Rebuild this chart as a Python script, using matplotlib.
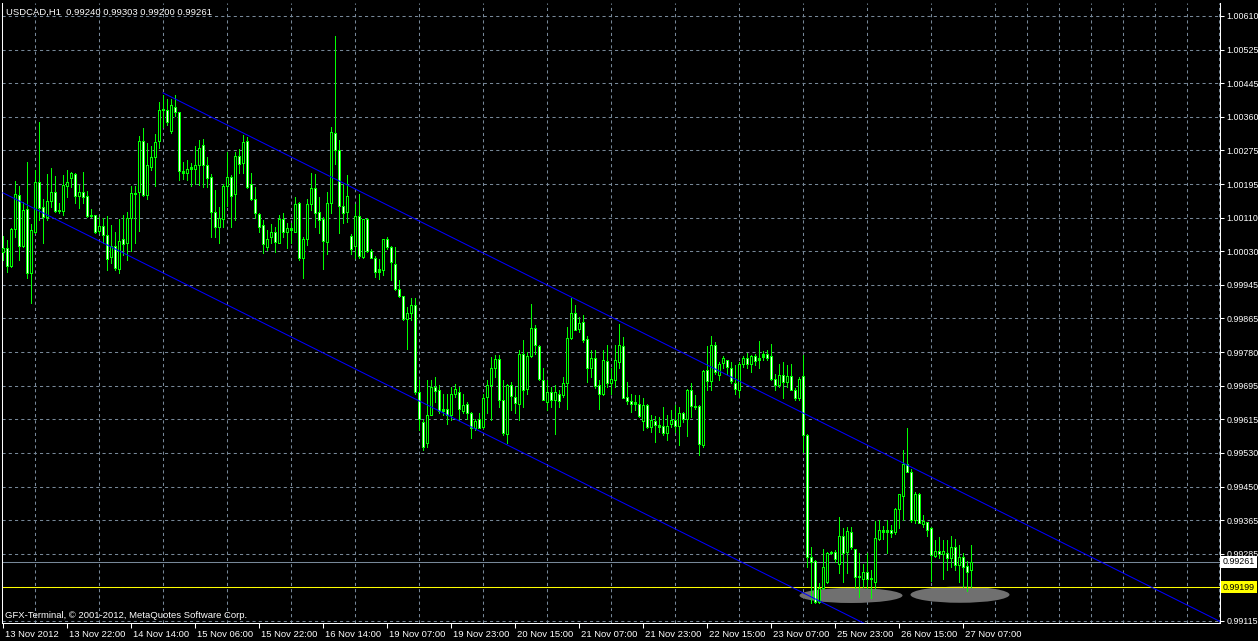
import matplotlib.pyplot as plt
import matplotlib.transforms as mtransforms
from matplotlib.patches import Ellipse
import numpy as np

plt.rcParams['font.family'] = ['Liberation Sans', 'DejaVu Sans']

# Header / footer text
title_text = "USDCAD,H1  0.99240 0.99303 0.99200 0.99261"
copyright_text = "GFX-Terminal, \u00a9 2001-2012, MetaQuotes Software Corp."

# H1 candles, 13 Nov 2012 06:00 .. 27 Nov 2012 09:00
opens = [
    1.00028, 1.00036, 0.99991, 1.00084, 1.00167, 1.00042, 1.00132, 0.99974, 1.00077, 1.00199,
    1.00137, 1.00114, 1.00152, 1.00176, 1.00129, 1.00129, 1.00191, 1.00210, 1.00219, 1.00166,
    1.00174, 1.00165, 1.00116, 1.00118, 1.00079, 1.00091, 1.00069, 1.00015, 1.00042, 0.99986,
    1.00058, 1.00048, 1.00110, 1.00171, 1.00175, 1.00302, 1.00167, 1.00236, 1.00261, 1.00300,
    1.00377, 1.00377, 1.00326, 1.00386, 1.00372, 1.00228, 1.00223, 1.00233, 1.00233, 1.00243,
    1.00291, 1.00243, 1.00211, 1.00125, 1.00089, 1.00108, 1.00190, 1.00212, 1.00171, 1.00265,
    1.00247, 1.00300, 1.00194, 1.00159, 1.00121, 1.00093, 1.00040, 1.00063, 1.00076, 1.00050,
    1.00108, 1.00077, 1.00085, 1.00077, 1.00149, 1.00011, 1.00059, 1.00145, 1.00186, 1.00126,
    1.00108, 1.00052, 1.00149, 1.00320, 1.00279, 1.00140, 1.00126, 1.00066, 1.00042, 1.00117,
    1.00015, 1.00108, 1.00029, 1.00012, 0.99978, 0.99983, 1.00058, 1.00039, 0.99997, 0.99936,
    0.99918, 0.99862, 0.99877, 0.99897, 0.99680, 0.99606, 0.99554, 0.99625, 0.99694, 0.99687,
    0.99634, 0.99638, 0.99624, 0.99677, 0.99682, 0.99634, 0.99651, 0.99629, 0.99591, 0.99613,
    0.99595, 0.99669, 0.99699, 0.99741, 0.99763, 0.99662, 0.99578, 0.99699, 0.99669, 0.99652,
    0.99776, 0.99689, 0.99769, 0.99838, 0.99794, 0.99710, 0.99657, 0.99680, 0.99661, 0.99675,
    0.99673, 0.99703, 0.99815, 0.99877, 0.99836, 0.99854, 0.99813, 0.99739, 0.99764, 0.99697,
    0.99677, 0.99757, 0.99703, 0.99710, 0.99755, 0.99794, 0.99668, 0.99659, 0.99650, 0.99650,
    0.99610, 0.99648, 0.99595, 0.99608, 0.99599, 0.99598, 0.99580, 0.99602, 0.99611, 0.99597,
    0.99628, 0.99613, 0.99685, 0.99647, 0.99646, 0.99550, 0.99735, 0.99708, 0.99798, 0.99724,
    0.99753, 0.99759, 0.99741, 0.99702, 0.99685, 0.99751, 0.99765, 0.99751, 0.99769, 0.99759,
    0.99768, 0.99774, 0.99771, 0.99714, 0.99699, 0.99723, 0.99706, 0.99720, 0.99686, 0.99665,
    0.99720, 0.99574, 0.99272, 0.99263, 0.99163, 0.99196, 0.99212, 0.99282, 0.99285, 0.99257,
    0.99325, 0.99286, 0.99336, 0.99292, 0.99223, 0.99218, 0.99235, 0.99218, 0.99212, 0.99317,
    0.99340, 0.99336, 0.99341, 0.99336, 0.99391, 0.99425, 0.99504, 0.99484, 0.99364, 0.99430,
    0.99355, 0.99360, 0.99344, 0.99275, 0.99289, 0.99280, 0.99282, 0.99271, 0.99297, 0.99253,
    0.99272, 0.99251, 0.99240,
]
highs = [
    1.00066, 1.00056, 1.00085, 1.00202, 1.00190, 1.00151, 1.00249, 1.00096, 1.00229, 1.00348,
    1.00159, 1.00219, 1.00234, 1.00215, 1.00148, 1.00216, 1.00229, 1.00225, 1.00221, 1.00192,
    1.00224, 1.00177, 1.00133, 1.00118, 1.00114, 1.00112, 1.00116, 1.00093, 1.00077, 1.00109,
    1.00118, 1.00125, 1.00190, 1.00190, 1.00313, 1.00333, 1.00295, 1.00289, 1.00318, 1.00398,
    1.00415, 1.00405, 1.00405, 1.00414, 1.00374, 1.00250, 1.00254, 1.00247, 1.00289, 1.00303,
    1.00307, 1.00262, 1.00219, 1.00180, 1.00139, 1.00195, 1.00273, 1.00217, 1.00274, 1.00281,
    1.00317, 1.00312, 1.00221, 1.00188, 1.00124, 1.00106, 1.00081, 1.00096, 1.00089, 1.00118,
    1.00124, 1.00099, 1.00099, 1.00163, 1.00151, 1.00065, 1.00159, 1.00223, 1.00219, 1.00163,
    1.00114, 1.00176, 1.00336, 1.00560, 1.00303, 1.00196, 1.00217, 1.00072, 1.00145, 1.00169,
    1.00109, 1.00110, 1.00035, 1.00018, 1.00009, 1.00060, 1.00064, 1.00041, 1.00039, 0.99957,
    0.99918, 0.99891, 0.99912, 0.99912, 0.99710, 0.99611, 0.99710, 0.99710, 0.99717, 0.99698,
    0.99677, 0.99677, 0.99694, 0.99700, 0.99692, 0.99677, 0.99657, 0.99632, 0.99615, 0.99628,
    0.99677, 0.99710, 0.99768, 0.99772, 0.99772, 0.99710, 0.99700, 0.99706, 0.99694, 0.99784,
    0.99809, 0.99780, 0.99899, 0.99846, 0.99797, 0.99739, 0.99710, 0.99694, 0.99698, 0.99685,
    0.99718, 0.99842, 0.99912, 0.99895, 0.99866, 0.99871, 0.99819, 0.99784, 0.99784, 0.99710,
    0.99784, 0.99798, 0.99739, 0.99798, 0.99850, 0.99817, 0.99706, 0.99677, 0.99673, 0.99673,
    0.99665, 0.99652, 0.99624, 0.99621, 0.99619, 0.99643, 0.99624, 0.99636, 0.99648, 0.99644,
    0.99632, 0.99689, 0.99702, 0.99673, 0.99648, 0.99735, 0.99794, 0.99819, 0.99805, 0.99755,
    0.99769, 0.99761, 0.99755, 0.99747, 0.99755, 0.99769, 0.99778, 0.99772, 0.99776, 0.99806,
    0.99782, 0.99784, 0.99799, 0.99726, 0.99751, 0.99755, 0.99747, 0.99750, 0.99690, 0.99717,
    0.99772, 0.99577, 0.99297, 0.99266, 0.99208, 0.99294, 0.99286, 0.99289, 0.99290, 0.99373,
    0.99344, 0.99348, 0.99348, 0.99294, 0.99282, 0.99256, 0.99282, 0.99241, 0.99363, 0.99364,
    0.99350, 0.99364, 0.99352, 0.99393, 0.99430, 0.99537, 0.99593, 0.99490, 0.99434, 0.99432,
    0.99377, 0.99360, 0.99348, 0.99315, 0.99323, 0.99315, 0.99315, 0.99325, 0.99317, 0.99303,
    0.99284, 0.99264, 0.99303,
]
lows = [
    1.00007, 0.99978, 0.99989, 1.00065, 1.00007, 1.00040, 0.99962, 0.99902, 1.00073, 1.00106,
    1.00050, 1.00106, 1.00139, 1.00126, 1.00122, 1.00118, 1.00163, 1.00188, 1.00148, 1.00135,
    1.00148, 1.00114, 1.00114, 1.00074, 1.00073, 1.00048, 0.99982, 0.99999, 0.99982, 0.99976,
    1.00019, 1.00007, 1.00030, 1.00048, 1.00079, 1.00166, 1.00159, 1.00229, 1.00191, 1.00284,
    1.00336, 1.00340, 1.00321, 1.00363, 1.00204, 1.00207, 1.00204, 1.00190, 1.00196, 1.00192,
    1.00188, 1.00188, 1.00063, 1.00065, 1.00048, 1.00089, 1.00140, 1.00089, 1.00106, 1.00221,
    1.00221, 1.00186, 1.00155, 1.00110, 1.00077, 1.00025, 1.00032, 1.00048, 1.00028, 1.00048,
    1.00065, 1.00036, 1.00048, 1.00077, 1.00007, 0.99962, 1.00044, 1.00130, 1.00089, 1.00073,
    0.99986, 1.00023, 1.00124, 1.00244, 1.00074, 1.00098, 1.00100, 1.00021, 1.00013, 1.00013,
    1.00013, 1.00026, 1.00011, 0.99965, 0.99959, 0.99971, 1.00035, 0.99957, 0.99932, 0.99916,
    0.99860, 0.99788, 0.99858, 0.99677, 0.99587, 0.99537, 0.99545, 0.99624, 0.99657, 0.99628,
    0.99624, 0.99603, 0.99611, 0.99669, 0.99611, 0.99628, 0.99615, 0.99566, 0.99588, 0.99591,
    0.99591, 0.99628, 0.99611, 0.99718, 0.99644, 0.99574, 0.99554, 0.99636, 0.99628, 0.99611,
    0.99644, 0.99677, 0.99768, 0.99776, 0.99710, 0.99661, 0.99636, 0.99644, 0.99578, 0.99644,
    0.99669, 0.99638, 0.99813, 0.99834, 0.99829, 0.99805, 0.99706, 0.99718, 0.99690, 0.99640,
    0.99673, 0.99694, 0.99677, 0.99694, 0.99739, 0.99665, 0.99652, 0.99632, 0.99636, 0.99619,
    0.99587, 0.99591, 0.99582, 0.99558, 0.99582, 0.99574, 0.99562, 0.99595, 0.99582, 0.99551,
    0.99607, 0.99573, 0.99619, 0.99640, 0.99525, 0.99545, 0.99685, 0.99687, 0.99726, 0.99710,
    0.99741, 0.99726, 0.99702, 0.99677, 0.99669, 0.99743, 0.99739, 0.99731, 0.99747, 0.99741,
    0.99759, 0.99759, 0.99710, 0.99685, 0.99692, 0.99665, 0.99694, 0.99686, 0.99662, 0.99662,
    0.99533, 0.99249, 0.99159, 0.99159, 0.99160, 0.99193, 0.99210, 0.99280, 0.99262, 0.99233,
    0.99212, 0.99233, 0.99294, 0.99196, 0.99175, 0.99200, 0.99196, 0.99173, 0.99196, 0.99315,
    0.99318, 0.99282, 0.99323, 0.99331, 0.99344, 0.99364, 0.99484, 0.99360, 0.99358, 0.99356,
    0.99348, 0.99325, 0.99215, 0.99274, 0.99270, 0.99220, 0.99241, 0.99249, 0.99241, 0.99212,
    0.99200, 0.99190, 0.99200,
]
closes = [
    1.00036, 0.99991, 1.00083, 1.00170, 1.00042, 1.00130, 0.99974, 1.00081, 1.00199, 1.00136,
    1.00114, 1.00152, 1.00174, 1.00129, 1.00127, 1.00192, 1.00199, 1.00221, 1.00166, 1.00175,
    1.00163, 1.00116, 1.00118, 1.00076, 1.00091, 1.00070, 1.00009, 1.00042, 0.99988, 1.00054,
    1.00046, 1.00110, 1.00172, 1.00173, 1.00301, 1.00168, 1.00242, 1.00261, 1.00298, 1.00377,
    1.00381, 1.00349, 1.00391, 1.00373, 1.00228, 1.00221, 1.00233, 1.00236, 1.00243, 1.00285,
    1.00243, 1.00210, 1.00126, 1.00089, 1.00110, 1.00190, 1.00213, 1.00166, 1.00265, 1.00245,
    1.00298, 1.00188, 1.00157, 1.00124, 1.00089, 1.00046, 1.00060, 1.00076, 1.00051, 1.00108,
    1.00077, 1.00085, 1.00081, 1.00145, 1.00011, 1.00059, 1.00145, 1.00186, 1.00122, 1.00107,
    1.00055, 1.00149, 1.00323, 1.00279, 1.00140, 1.00124, 1.00165, 1.00035, 1.00117, 1.00016,
    1.00108, 1.00029, 1.00012, 0.99978, 0.99984, 1.00058, 1.00038, 1.00001, 0.99936, 0.99918,
    0.99862, 0.99877, 0.99897, 0.99680, 0.99613, 0.99545, 0.99625, 0.99694, 0.99684, 0.99634,
    0.99638, 0.99624, 0.99677, 0.99689, 0.99638, 0.99648, 0.99628, 0.99591, 0.99609, 0.99593,
    0.99667, 0.99699, 0.99741, 0.99762, 0.99662, 0.99580, 0.99698, 0.99671, 0.99654, 0.99776,
    0.99687, 0.99769, 0.99838, 0.99797, 0.99712, 0.99662, 0.99680, 0.99662, 0.99681, 0.99659,
    0.99702, 0.99815, 0.99877, 0.99835, 0.99852, 0.99810, 0.99739, 0.99764, 0.99695, 0.99677,
    0.99759, 0.99703, 0.99712, 0.99761, 0.99796, 0.99666, 0.99659, 0.99651, 0.99656, 0.99621,
    0.99648, 0.99595, 0.99611, 0.99600, 0.99595, 0.99580, 0.99598, 0.99612, 0.99597, 0.99628,
    0.99613, 0.99685, 0.99647, 0.99644, 0.99552, 0.99733, 0.99708, 0.99796, 0.99731, 0.99751,
    0.99764, 0.99743, 0.99708, 0.99689, 0.99751, 0.99765, 0.99751, 0.99769, 0.99758, 0.99764,
    0.99774, 0.99765, 0.99712, 0.99699, 0.99724, 0.99706, 0.99720, 0.99687, 0.99667, 0.99714,
    0.99574, 0.99272, 0.99261, 0.99163, 0.99196, 0.99248, 0.99282, 0.99286, 0.99267, 0.99325,
    0.99284, 0.99338, 0.99297, 0.99223, 0.99225, 0.99235, 0.99218, 0.99221, 0.99319, 0.99340,
    0.99334, 0.99341, 0.99333, 0.99391, 0.99429, 0.99502, 0.99484, 0.99364, 0.99430, 0.99358,
    0.99363, 0.99340, 0.99278, 0.99289, 0.99280, 0.99288, 0.99271, 0.99299, 0.99253, 0.99272,
    0.99249, 0.99237, 0.99261,
]

# time scale labels, one every 16 bars
time_labels = ["13 Nov 2012", "13 Nov 22:00", "14 Nov 14:00", "15 Nov 06:00", "15 Nov 22:00",
               "16 Nov 14:00", "19 Nov 07:00", "19 Nov 23:00", "20 Nov 15:00", "21 Nov 07:00",
               "21 Nov 23:00", "22 Nov 15:00", "23 Nov 07:00", "25 Nov 23:00", "26 Nov 15:00",
               "27 Nov 07:00"]
label_step = 16
grid_step = 8
n_slots = 304

# price scale, bottom to top (0.99200 is hidden under the yellow level tag)
price_labels = ["0.99115", "", "0.99285", "0.99365", "0.99450", "0.99530", "0.99615",
                "0.99695", "0.99780", "0.99865", "0.99945", "1.00030", "1.00110", "1.00195",
                "1.00275", "1.00360", "1.00445", "1.00525", "1.00610"]
price_bottom, price_top = 0.99115, 1.00610

bid_price = 0.99261
level_price = 0.99199

# channel lines: (bar, price) anchors
upper_channel = [(40, 1.00420), (303, 0.99120)]
lower_channel = [(0, 1.00173), (214.5, 0.99113)]

# grey highlight ellipses: (bar centre, price centre, width in bars, height in price)
highlights = [(212.0, 0.99178, 25.75, 0.00037), (239.25, 0.99180, 24.75, 0.00040)]

W, H = 1258, 641
fig = plt.figure(figsize=(W / 100, H / 100), dpi=100, facecolor='black')
ax = fig.add_axes([2 / W, 18 / H, 1218 / W, 620 / H], facecolor='black')

o = np.array(opens)
h = np.array(highs)
l = np.array(lows)
c = np.array(closes)
x = np.arange(len(c))

px = (price_top - price_bottom) / 605  # one pixel in price units
ax.set_xlim(-0.25, n_slots + 0.25)
ax.set_ylim(price_bottom - 2 * px, price_top + 13 * px)

lime = '#00FF00'
grid_col = '#778899'

# highlight ellipses (behind everything else)
for cx, cy, ew, eh in highlights:
    ax.add_patch(Ellipse((cx, cy), ew, eh, facecolor='#707070', edgecolor='none', zorder=1.1))

# level lines
ax.axhline(level_price, color='yellow', lw=0.75, zorder=1.5)
ax.axhline(bid_price, color=grid_col, lw=0.75, zorder=1.5)

# candles: lime wicks, 3px lime body, 1px core black (bull) or white (bear)
ax.vlines(x, l, h, colors=lime, linewidth=0.72, antialiased=False, zorder=2)
body_lo = np.minimum(o, c)
body_h = np.maximum(np.abs(c - o), px)
ax.vlines(x, body_lo, body_lo + body_h, colors=lime, linewidth=2.16, capstyle='butt',
          antialiased=False, zorder=3)
core = body_h > 2.5 * px
fill = np.where(c >= o, 'black', 'white')
ax.vlines(x[core], body_lo[core] + px, body_lo[core] + body_h[core] - px, colors=fill[core],
          linewidth=0.72, capstyle='butt', antialiased=False, zorder=3.1)

# channel lines extended to the right edge
for (x0, y0), (x1, y1) in (upper_channel, lower_channel):
    slope = (y1 - y0) / (x1 - x0)
    x_end = n_slots + 0.25
    ax.plot([x0, x_end], [y0, y0 + slope * (x_end - x0)], color='#0000FF', lw=0.75, zorder=4)

# price axis on the right
step = (price_top - price_bottom) / (len(price_labels) - 1)
ax.set_yticks([price_bottom + k * step for k in range(len(price_labels))])
ax.set_yticklabels(price_labels)
ax.yaxis.tick_right()
ax.tick_params(axis='y', which='major', direction='out', length=3, width=0.75,
               colors='white', labelsize=6.4, pad=1.5)

# time axis
ax.set_xticks(np.arange(len(time_labels)) * label_step)
ax.set_xticklabels(time_labels)
ax.set_xticks(np.arange(grid_step, n_slots + 1, grid_step), minor=True)
ax.tick_params(axis='x', which='major', direction='out', length=3.5, width=0.75,
               colors='white', labelsize=6.8, pad=1.5)
ax.tick_params(axis='x', which='minor', length=0)
offset = mtransforms.ScaledTranslation(2 / 100, 0, fig.dpi_scale_trans)
for lab in ax.get_xticklabels():
    lab.set_horizontalalignment('left')
    lab.set_transform(lab.get_transform() + offset)

ax.grid(True, which='major', axis='y', color=grid_col, linestyle=(0, (3, 3)), lw=0.75)
ax.grid(True, which='minor', axis='x', color=grid_col, linestyle=(0, (3, 3)), lw=0.75)
ax.set_axisbelow(True)

for side in ('left', 'bottom', 'right'):
    ax.spines[side].set_color('white')
    ax.spines[side].set_linewidth(0.75)
ax.spines['top'].set_visible(False)

# price tags on the scale
tag_tr = mtransforms.blended_transform_factory(ax.transAxes, ax.transData) + \
    mtransforms.ScaledTranslation(3 / 100, 0, fig.dpi_scale_trans)
ax.text(1.0, bid_price, "0.99261", transform=tag_tr, ha='left', va='center', fontsize=6.4,
        color='black', clip_on=False, zorder=6,
        bbox=dict(boxstyle='square,pad=0.2', facecolor='white', edgecolor='none'))
ax.text(1.0, level_price, "0.99199", transform=tag_tr, ha='left', va='center', fontsize=6.4,
        color='black', clip_on=False, zorder=6,
        bbox=dict(boxstyle='square,pad=0.2', facecolor='yellow', edgecolor='none'))

fig.text(6 / W, 1 - 12 / H, title_text, color='white', fontsize=6.8, ha='left', va='center')
fig.text(5 / W, 1 - 616 / H, copyright_text, color='white', fontsize=6.8, ha='left', va='center')

fig.savefig('out.png', dpi=100, facecolor='black')
